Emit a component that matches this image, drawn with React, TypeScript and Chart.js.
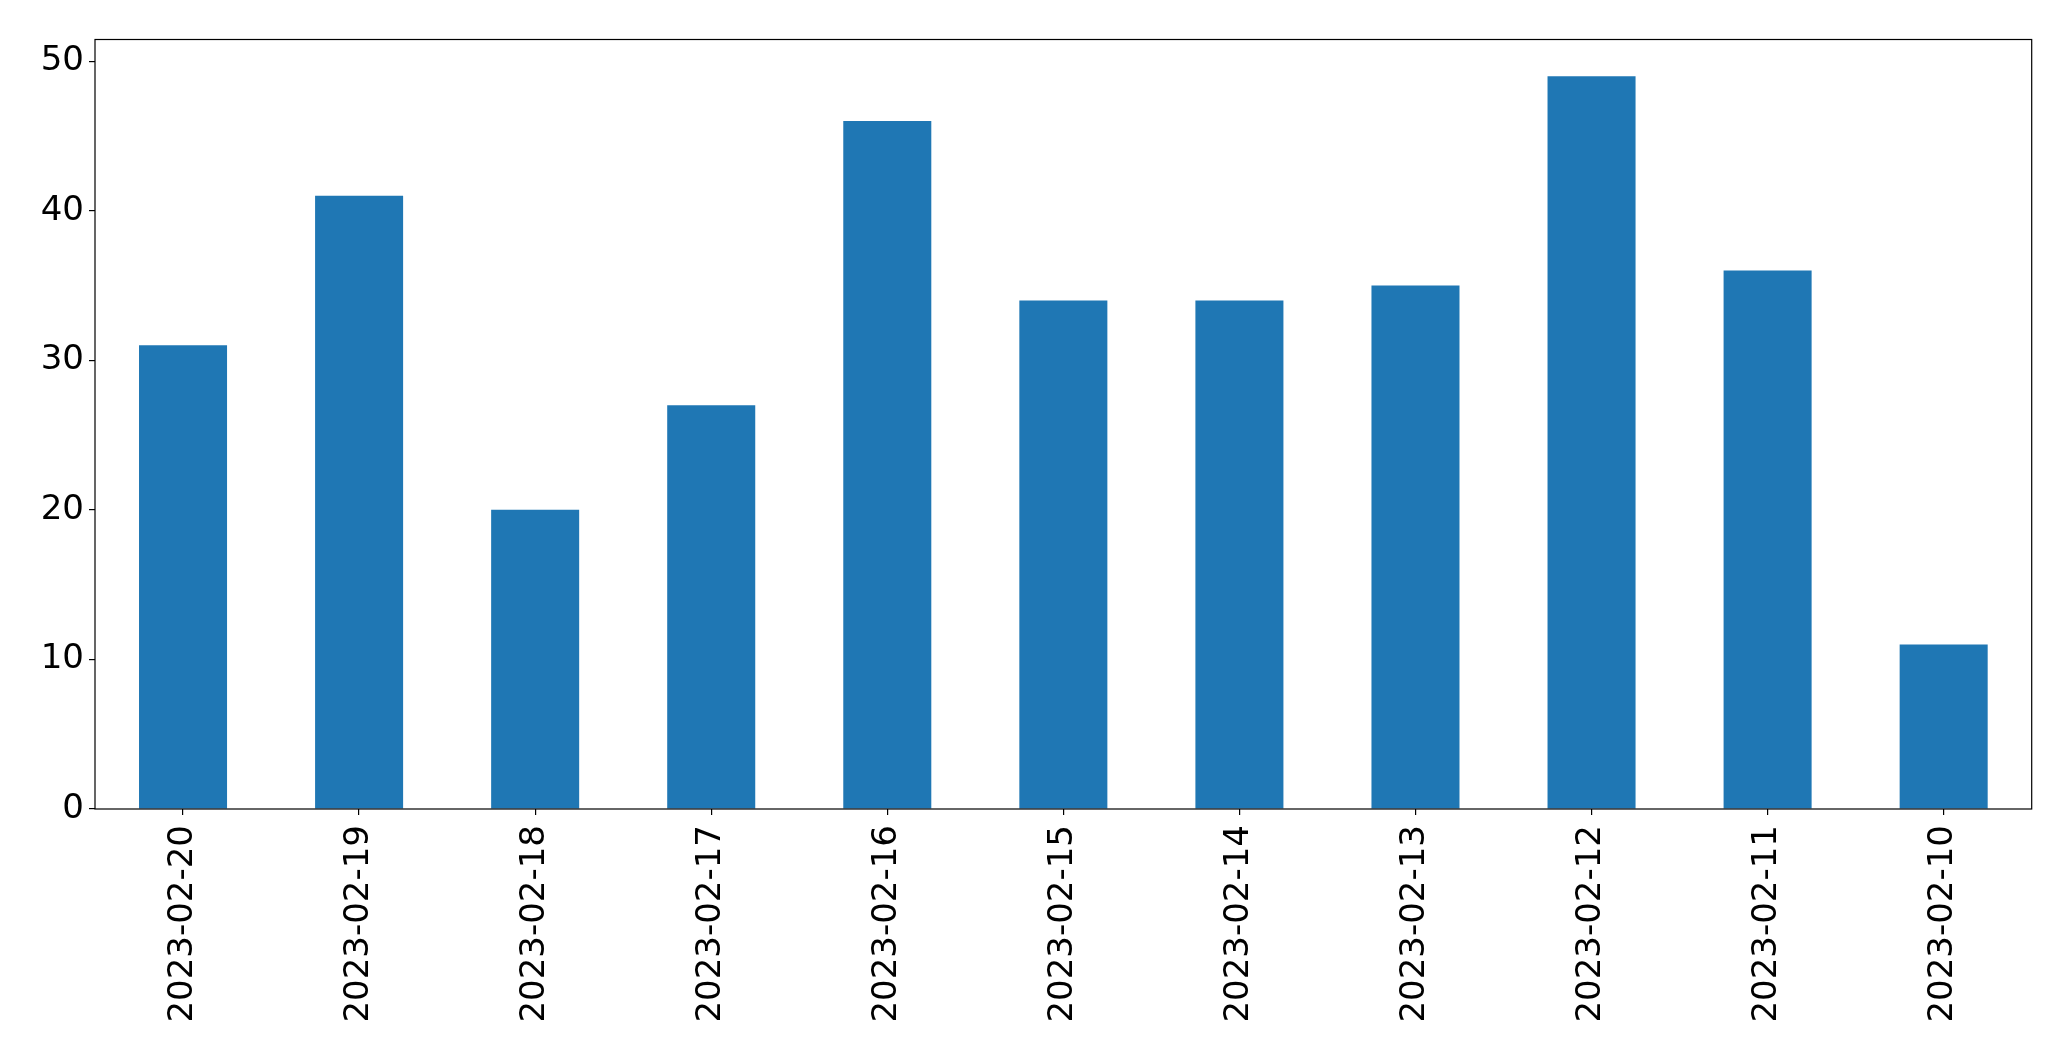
import React, { useEffect, useRef } from "react";
import { Chart, registerables } from "chart.js";

Chart.register(...registerables);

const categories = [
  "2023-02-20", "2023-02-19", "2023-02-18", "2023-02-17", "2023-02-16", "2023-02-15",
  "2023-02-14", "2023-02-13", "2023-02-12", "2023-02-11", "2023-02-10",
];
const values = [31, 41, 20, 27, 46, 34, 34, 35, 49, 36, 11];
const yTicks = [0, 10, 20, 30, 40, 50];

const W = 2071;
const H = 1061;

const framePlugin = {
  id: "frame",
  afterDatasetsDraw(chart: any) {
    const { ctx, chartArea } = chart;
    ctx.save();
    ctx.strokeStyle = "#000";
    ctx.lineWidth = 1.2;
    ctx.strokeRect(chartArea.left, chartArea.top, chartArea.right - chartArea.left, chartArea.bottom - chartArea.top);
    ctx.restore();
  },
};

export default function App() {
  const ref = useRef<HTMLCanvasElement | null>(null);
  useEffect(() => {
    if (!ref.current) return;
    const maxV = Math.max(...values);
    const chart = new Chart(ref.current, {
      type: "bar",
      data: {
        labels: categories,
        datasets: [
          {
            data: values,
            backgroundColor: "#1f77b4",
            borderWidth: 0,
            barPercentage: 0.5,
            categoryPercentage: 1,
          },
        ],
      },
      options: {
        animation: false,
        responsive: false,
        devicePixelRatio: 1,
        layout: { padding: { top: 39.5, right: 39.3, left: 0, bottom: 0 } },
        plugins: { legend: { display: false }, tooltip: { enabled: false }, title: { display: false } },
        scales: {
          x: {
            type: "category",
            offset: true,
            grid: { display: true, offset: false, drawOnChartArea: false, drawTicks: true, tickLength: 6, tickColor: "#000", lineWidth: 1.2 },
            border: { display: false },
            ticks: {
              color: "#000",
              font: { family: "DejaVu Sans", size: 34 },
              minRotation: 90,
              maxRotation: 90,
              autoSkip: false,
              padding: 10,
            },
            afterFit(scale: any) {
              scale.height = H - 809;
            },
          },
          y: {
            min: 0,
            max: maxV * 1.05,
            grid: { display: true, drawOnChartArea: false, drawTicks: true, tickLength: 6, tickColor: "#000", lineWidth: 1.2 },
            border: { display: false },
            ticks: {
              color: "#000",
              font: { family: "DejaVu Sans", size: 34 },
              stepSize: 10,
              padding: 5,
            },
            afterBuildTicks(scale: any) {
              scale.ticks = yTicks.map((v) => ({ value: v }));
            },
            afterFit(scale: any) {
              scale.width = 95;
            },
          },
        },
      },
      plugins: [framePlugin],
    });
    return () => chart.destroy();
  }, []);
  return (
    <div style={{ position: "fixed", left: 0, top: 0, width: W, height: H, background: "#fff" }}>
      <canvas ref={ref} width={W} height={H} style={{ width: W, height: H, display: "block" }} />
    </div>
  );
}
